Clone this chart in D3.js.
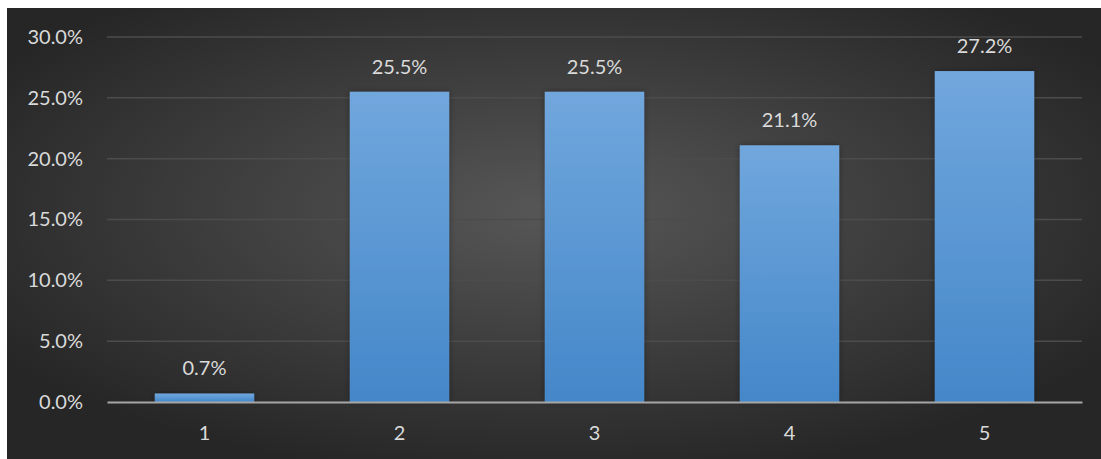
<!DOCTYPE html>
<html>
<head>
<meta charset="utf-8">
<script src="https://cdn.jsdelivr.net/npm/d3@7"></script>
<style>
  html, body { margin: 0; padding: 0; background: #fff; }
  svg { display: block; }
  text { font-family: Lato, "Open Sans", sans-serif; }
</style>
</head>
<body>
<svg id="chart" width="1101" height="459"></svg>
<script>
// chart data
const categories = ["1", "2", "3", "4", "5"];
const shares = [0.007, 0.255, 0.255, 0.211, 0.272];
const yTicks = [0, 0.05, 0.10, 0.15, 0.20, 0.25, 0.30];

const W = 1101, H = 459;
const margin = {top: 37, right: 19, bottom: 57, left: 107};
const fontSize = "20px";

const svg = d3.select("#chart");
const defs = svg.append("defs");

// dark radial background, lighter in the middle
const bg = defs.append("radialGradient").attr("id", "bgGrad")
  .attr("cx", "50%").attr("cy", "45%").attr("r", "60%");
bg.append("stop").attr("offset", "0%").attr("stop-color", "#575757");
bg.append("stop").attr("offset", "100%").attr("stop-color", "#262626");

const barGrad = defs.append("linearGradient").attr("id", "barGrad")
  .attr("x1", 0).attr("y1", 0).attr("x2", 0).attr("y2", 1);
barGrad.append("stop").attr("offset", "0%").attr("stop-color", "#71a7dd");
barGrad.append("stop").attr("offset", "100%").attr("stop-color", "#4487c9");

const shadow = defs.append("filter").attr("id", "barShadow")
  .attr("x", "-20%").attr("y", "-20%").attr("width", "140%").attr("height", "140%");
shadow.append("feDropShadow").attr("dx", 0).attr("dy", 0)
  .attr("stdDeviation", 3).attr("flood-color", "#000").attr("flood-opacity", 0.35);

svg.append("rect")
  .attr("x", 7).attr("y", 8).attr("width", W - 7).attr("height", H - 8)
  .attr("fill", "url(#bgGrad)");

const x = d3.scaleBand().domain(categories)
  .range([margin.left, W - margin.right]).paddingInner(0.49).paddingOuter(0.245);
const y = d3.scaleLinear().domain([0, 0.30]).range([H - margin.bottom, margin.top]);

// gridlines
svg.append("g")
  .selectAll("line").data(yTicks.slice(1)).join("line")
  .attr("x1", margin.left).attr("x2", W - margin.right)
  .attr("y1", d => y(d)).attr("y2", d => y(d))
  .attr("stroke", "#4c4c4c").attr("stroke-width", 1.5);

// y axis labels
const yAxis = svg.append("g")
  .attr("transform", `translate(${margin.left},0)`)
  .call(d3.axisLeft(y).tickValues(yTicks).tickFormat(d3.format(".1%")).tickSize(0).tickPadding(24));
yAxis.select(".domain").remove();
yAxis.selectAll("text").attr("fill", "#dadada").style("font-size", fontSize)
  .style("font-family", "Lato, 'Open Sans', sans-serif");

// bars
svg.append("g")
  .selectAll("rect").data(shares).join("rect")
  .attr("x", (d, i) => x(categories[i]))
  .attr("y", d => y(d))
  .attr("width", x.bandwidth())
  .attr("height", d => y(0) - y(d))
  .attr("fill", "url(#barGrad)")
  .attr("filter", "url(#barShadow)");

// value labels
svg.append("g")
  .selectAll("text").data(shares).join("text")
  .attr("x", (d, i) => x(categories[i]) + x.bandwidth() / 2)
  .attr("y", d => y(d) - 18)
  .attr("text-anchor", "middle")
  .attr("fill", "#dadada").style("font-size", fontSize)
  .text(d => d3.format(".1%")(d));

// x axis baseline + category labels
const xAxis = svg.append("g")
  .attr("transform", `translate(0,${y(0)})`)
  .call(d3.axisBottom(x).tickSize(0).tickPadding(24));
xAxis.select(".domain").attr("stroke", "#a6a6a6").attr("stroke-width", 2);
xAxis.selectAll("text").attr("fill", "#dadada").style("font-size", fontSize)
  .style("font-family", "Lato, 'Open Sans', sans-serif");
</script>
</body>
</html>
